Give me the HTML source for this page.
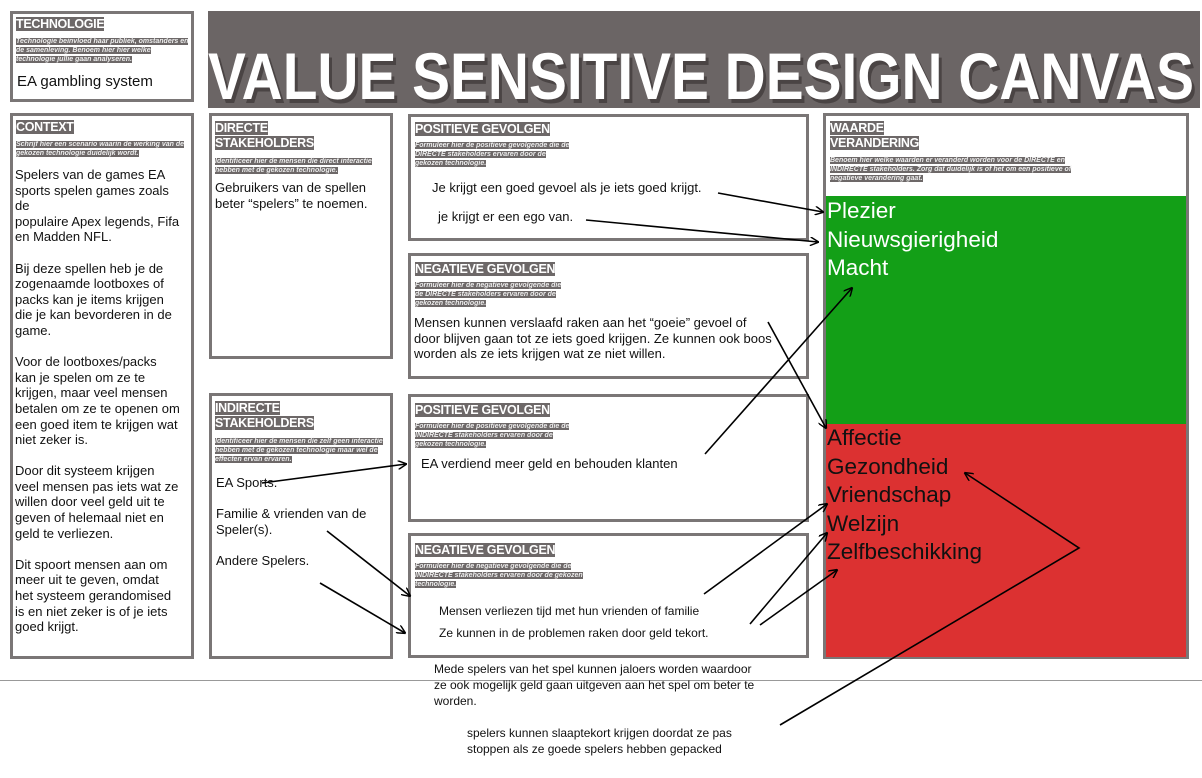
<!DOCTYPE html>
<html><head><meta charset="utf-8">
<style>
body{margin:0;width:1202px;height:778px;background:#fff;position:relative;overflow:hidden;font-family:"Liberation Sans",sans-serif;color:#111}
.box{position:absolute;border:3px solid #7a7676;box-sizing:border-box;background:#fff}
.lab{position:absolute;font-family:"Liberation Sans Narrow","Liberation Sans",sans-serif;font-weight:bold;color:#fff;font-size:12.5px;line-height:15px;letter-spacing:-0.3px}
.sub{position:absolute;font-family:"Liberation Sans Narrow","Liberation Sans",sans-serif;font-style:italic;font-weight:bold;color:#eee;font-size:7px;line-height:9px}
.sub span{background:#6d6868}
.lab span{background:#6d6868}
.t{position:absolute;font-size:13px;line-height:15.6px;white-space:nowrap}
.big{position:absolute;font-size:22.5px;line-height:28.6px;white-space:nowrap}
</style></head><body>

<div class="box" style="left:10px;top:11px;width:184px;height:91px"></div>
<div class="lab" style="left:16px;top:17px"><span>TECHNOLOGIE</span></div>
<div class="sub" style="left:16px;top:37px;width:175px"><span>Technologie beinvloed haar publiek, omstanders en de samenleving. Benoem hier hier welke technologie jullie gaan analyseren.</span></div>
<div class="t" style="left:17px;top:74px;font-size:15px">EA gambling system</div>

<div style="position:absolute;left:208px;top:11px;width:992px;height:97px;background:#6b6565"></div>
<svg style="position:absolute;left:0;top:0" width="1202" height="778">
<text x="211" y="103" font-family="Liberation Sans Narrow, Liberation Sans, sans-serif" font-weight="bold" font-size="66" fill="#4a4444" textLength="986" lengthAdjust="spacingAndGlyphs">VALUE SENSITIVE DESIGN CANVAS</text>
<text x="208" y="99" font-family="Liberation Sans Narrow, Liberation Sans, sans-serif" font-weight="bold" font-size="66" fill="#fff" textLength="986" lengthAdjust="spacingAndGlyphs">VALUE SENSITIVE DESIGN CANVAS</text>
</svg>

<div class="box" style="left:10px;top:113px;width:184px;height:546px"></div>
<div class="lab" style="left:16px;top:120px"><span>CONTEXT</span></div>
<div class="sub" style="left:16px;top:140px;width:175px"><span>Schrijf hier een scenario waarin de werking van de gekozen technologie duidelijk wordt.</span></div>
<div class="t" style="left:15px;top:167px">Spelers van de games EA<br>sports spelen games zoals<br>de<br>populaire Apex legends, Fifa<br>en Madden NFL.<br><br>Bij deze spellen heb je de<br>zogenaamde lootboxes of<br>packs kan je items krijgen<br>die je kan bevorderen in de<br>game.<br><br>Voor de lootboxes/packs<br>kan je spelen om ze te<br>krijgen, maar veel mensen<br>betalen om ze te openen om<br>een goed item te krijgen wat<br>niet zeker is.<br><br>Door dit systeem krijgen<br>veel mensen pas iets wat ze<br>willen door veel geld uit te<br>geven of helemaal niet en<br>geld te verliezen.<br><br>Dit spoort mensen aan om<br>meer uit te geven, omdat<br>het systeem gerandomised<br>is en niet zeker is of je iets<br>goed krijgt.</div>

<div class="box" style="left:209px;top:113px;width:184px;height:246px"></div>
<div class="lab" style="left:215px;top:121px"><span>DIRECTE<br>STAKEHOLDERS</span></div>
<div class="sub" style="left:215px;top:157px;width:175px"><span>Identificeer hier de mensen die direct interactie hebben met de gekozen technologie.</span></div>
<div class="t" style="left:215px;top:180px">Gebruikers van de spellen<br>beter “spelers” te noemen.</div>

<div class="box" style="left:209px;top:393px;width:184px;height:266px"></div>
<div class="lab" style="left:215px;top:401px"><span>INDIRECTE<br>STAKEHOLDERS</span></div>
<div class="sub" style="left:215px;top:437px;width:175px"><span>Identificeer hier de mensen die zelf geen interactie hebben met de gekozen technologie maar wel de effecten ervan ervaren.</span></div>
<div class="t" style="left:216px;top:475px">EA Sports.</div>
<div class="t" style="left:216px;top:506px">Familie &amp; vrienden van de<br>Speler(s).</div>
<div class="t" style="left:216px;top:553px">Andere Spelers.</div>

<div class="box" style="left:408px;top:114px;width:401px;height:127px"></div>
<div class="lab" style="left:415px;top:122px"><span>POSITIEVE GEVOLGEN</span></div>
<div class="sub" style="left:415px;top:141px;width:160px"><span>Formuleer hier de positieve gevolgende die de DIRECTE stakeholders ervaren door de gekozen technologie.</span></div>
<div class="t" style="left:432px;top:180px">Je krijgt een goed gevoel als je iets goed krijgt.</div>
<div class="t" style="left:438px;top:209px">je krijgt er een ego van.</div>

<div class="box" style="left:408px;top:253px;width:401px;height:126px"></div>
<div class="lab" style="left:415px;top:262px"><span>NEGATIEVE GEVOLGEN</span></div>
<div class="sub" style="left:415px;top:281px;width:150px"><span>Formuleer hier de negatieve gevolgende die de DIRECTE stakeholders ervaren door de gekozen technologie.</span></div>
<div class="t" style="left:414px;top:315px">Mensen kunnen verslaafd raken aan het “goeie” gevoel of<br>door blijven gaan tot ze iets goed krijgen. Ze kunnen ook boos<br>worden als ze iets krijgen wat ze niet willen.</div>

<div class="box" style="left:408px;top:394px;width:401px;height:128px"></div>
<div class="lab" style="left:415px;top:403px"><span>POSITIEVE GEVOLGEN</span></div>
<div class="sub" style="left:415px;top:422px;width:160px"><span>Formuleer hier de positieve gevolgende die de INDIRECTE stakeholders ervaren door de gekozen technologie.</span></div>
<div class="t" style="left:421px;top:456px">EA verdiend meer geld en behouden klanten</div>

<div class="box" style="left:408px;top:533px;width:401px;height:125px"></div>
<div class="lab" style="left:415px;top:543px"><span>NEGATIEVE GEVOLGEN</span></div>
<div class="sub" style="left:415px;top:562px;width:170px"><span>Formuleer hier de negatieve gevolgende die de INDIRECTE stakeholders ervaren door de gekozen technologie.</span></div>
<div class="t" style="left:439px;top:604px;font-size:12px">Mensen verliezen tijd met hun vrienden of familie</div>
<div class="t" style="left:439px;top:626px;font-size:12px">Ze kunnen in de problemen raken door geld tekort.</div>

<div class="box" style="left:823px;top:113px;width:366px;height:546px"></div>
<div class="lab" style="left:830px;top:121px"><span>WAARDE<br>VERANDERING</span></div>
<div class="sub" style="left:830px;top:156px;width:270px"><span>Benoem hier welke waarden er veranderd worden voor de DIRECTE en INDIRECTE stakeholders. Zorg dat duidelijk is of het om een positieve of negatieve verandering gaat.</span></div>
<div style="position:absolute;left:826px;top:196px;width:360px;height:228px;background:#139f17"></div>
<div style="position:absolute;left:826px;top:424px;width:360px;height:233px;background:#dc3131"></div>
<div class="big" style="left:827px;top:197px;color:#fff">Plezier<br>Nieuwsgierigheid<br>Macht</div>
<div class="big" style="left:827px;top:424px;color:#111">Affectie<br>Gezondheid<br>Vriendschap<br>Welzijn<br>Zelfbeschikking</div>

<div style="position:absolute;left:0;top:680px;width:1202px;height:1px;background:#999"></div>
<div class="t" style="left:434px;top:661px;font-size:12px;line-height:16px">Mede spelers van het spel kunnen jaloers worden waardoor<br>ze ook mogelijk geld gaan uitgeven aan het spel om beter te<br>worden.</div>
<div class="t" style="left:467px;top:725px;font-size:12px;line-height:16px">spelers kunnen slaaptekort krijgen doordat ze pas<br>stoppen als ze goede spelers hebben gepacked</div>

<svg style="position:absolute;left:0;top:0" width="1202" height="778" fill="none" stroke="#000" stroke-width="1.6">
<defs><marker id="a" viewBox="0 0 10 10" refX="9" refY="5" markerWidth="9" markerHeight="9" orient="auto" markerUnits="userSpaceOnUse"><path d="M0,0 L10,5 L0,10" fill="none" stroke="#000" stroke-width="1.6"/></marker></defs>
<line x1="718" y1="193" x2="823" y2="212" marker-end="url(#a)"/>
<line x1="586" y1="220" x2="818" y2="242" marker-end="url(#a)"/>
<line x1="705" y1="454" x2="852" y2="288" marker-end="url(#a)"/>
<line x1="768" y1="322" x2="826" y2="428" marker-end="url(#a)"/>
<line x1="262" y1="483" x2="406" y2="464" marker-end="url(#a)"/>
<line x1="327" y1="531" x2="410" y2="596" marker-end="url(#a)"/>
<line x1="320" y1="583" x2="405" y2="633" marker-end="url(#a)"/>
<line x1="704" y1="594" x2="827" y2="504" marker-end="url(#a)"/>
<line x1="750" y1="624" x2="827" y2="533" marker-end="url(#a)"/>
<line x1="760" y1="625" x2="837" y2="570" marker-end="url(#a)"/>
<polyline points="780,725 1079,548 965,473" marker-end="url(#a)"/>
</svg>
</body></html>
